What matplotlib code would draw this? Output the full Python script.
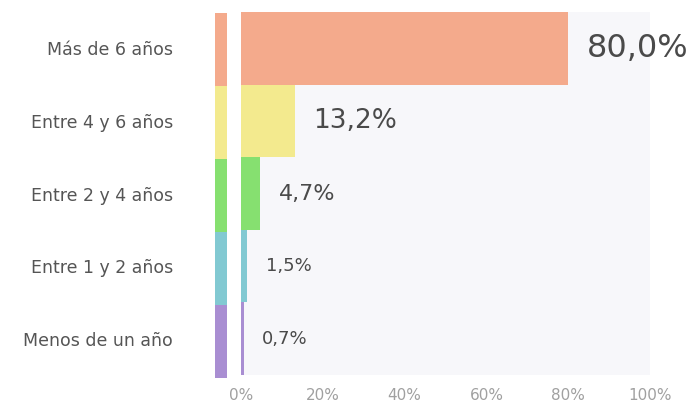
import matplotlib.pyplot as plt

categorias = ["Más de 6 años", "Entre 4 y 6 años", "Entre 2 y 4 años",
              "Entre 1 y 2 años", "Menos de un año"]
valores = [80.0, 13.2, 4.7, 1.5, 0.7]
etiquetas = ["80,0%", "13,2%", "4,7%", "1,5%", "0,7%"]
ticks = [0, 20, 40, 60, 80, 100]
tick_labels = ["0%", "20%", "40%", "60%", "80%", "100%"]

colores = ["#F4AA8C", "#F3EA8E", "#86E070", "#82C9D2", "#A98ED2"]
tam_etiq = [23, 19, 16, 13, 13]

fig = plt.figure(figsize=(6.99, 4.12), dpi=100)
fig.patch.set_facecolor("white")

# main panel
ax = fig.add_axes([241 / 699, 1 - 375 / 412, 409 / 699, 363 / 412])
ax.set_facecolor("#F7F7FA")
y = list(range(len(categorias)))
ax.barh(y, valores, height=1.0, color=colores, edgecolor="none")
ax.set_xlim(0, 100)
ax.set_ylim(len(categorias) - 0.5, -0.5)
for i, v in enumerate(valores):
    ax.text(v + 4.5, i, etiquetas[i], va="center", ha="left",
            fontsize=tam_etiq[i], color="#4a4a4a")
ax.set_xticks(ticks)
ax.set_xticklabels(tick_labels, color="#a0a0a0", fontsize=11)
ax.set_yticks(y)
ax.set_yticklabels(categorias, color="#555555", fontsize=12.5)
ax.tick_params(axis="y", length=0, pad=49)
ax.tick_params(axis="x", length=0, pad=9)
for s in ax.spines.values():
    s.set_visible(False)

# thin strip on the left
ax2 = fig.add_axes([215 / 699, 1 - 378 / 412, 12 / 699, 365 / 412])
ax2.barh(y, [1] * len(y), height=1.0, color=colores, edgecolor="none")
ax2.set_xlim(0, 1)
ax2.set_ylim(len(categorias) - 0.5, -0.5)
ax2.axis("off")

fig.savefig("out.png", dpi=100)
